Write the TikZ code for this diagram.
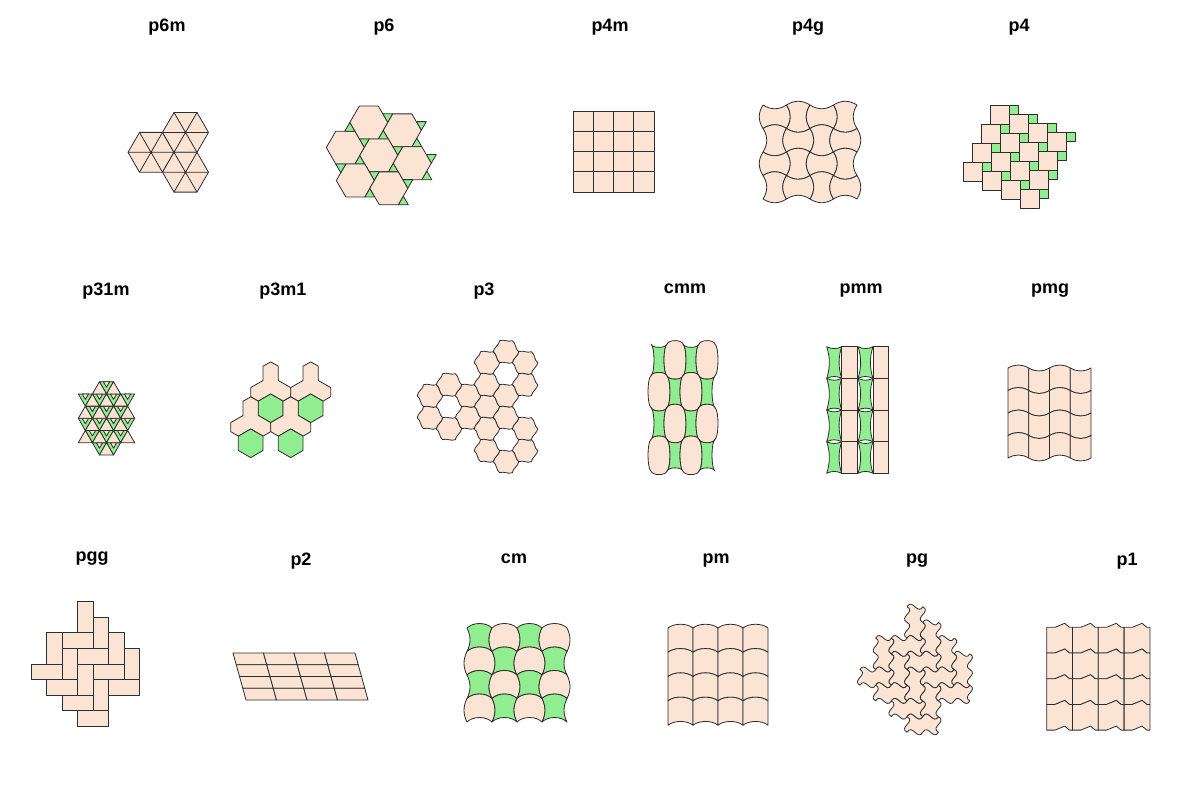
\documentclass[tikz,border=0pt]{standalone}
\usepackage{fontspec}
\setmainfont{Liberation Sans}
\usetikzlibrary{calc}
\definecolor{peach}{RGB}{252,228,212}
\definecolor{lgreen}{RGB}{144,238,144}
\definecolor{ink}{RGB}{45,45,45}
\newcommand\pthreetile{%
 (12.7,0) .. controls (12.142,4.567) and (6.908,6.433) .. (6.35,11)
 .. controls (2.117,12.8) and (-2.117,9.2) .. (-6.35,11)
 .. controls (-10.026,8.233) and (-9.024,2.767) .. (-12.7,0)
 .. controls (-12.142,-4.567) and (-6.908,-6.433) .. (-6.35,-11)
 .. controls (-2.117,-12.8) and (2.117,-9.2) .. (6.35,-11)
 .. controls (10.026,-8.233) and (9.024,-2.767) .. cycle}
% wavy unit segments for pg (u = 15.7)
\newcommand\hR[2]{.. controls ({#1+5.23},{#2-9}) and ({#1+10.47},{#2+9}) .. ({#1+15.7},{#2})}
\newcommand\hL[2]{.. controls ({#1-5.23},{#2+9}) and ({#1-10.47},{#2-9}) .. ({#1-15.7},{#2})}
\newcommand\vD[2]{.. controls ({#1+9},{#2+5.23}) and ({#1-9},{#2+10.47}) .. ({#1},{#2+15.7})}
\newcommand\vU[2]{.. controls ({#1-9},{#2-5.23}) and ({#1+9},{#2-10.47}) .. ({#1},{#2-15.7})}
\begin{document}
\begin{tikzpicture}[x=1pt,y=-1pt,
  tile/.style={fill=peach,draw=ink,line width=0.8pt,line join=round},
  gtile/.style={fill=lgreen,draw=ink,line width=0.8pt,line join=round},
  edge/.style={draw=ink,line width=0.8pt},
  ttl/.style={font=\bfseries\fontsize{18}{21}\selectfont,inner sep=0pt}]
\useasboundingbox (0,0) rectangle (1200,790);
% ---------- titles
\node[ttl] (t-p6m) at (167,27) {p6m};
\node[ttl] (t-p6) at (384,27) {p6};
\node[ttl] (t-p4m) at (610,27) {p4m};
\node[ttl] (t-p4g) at (808,27) {p4g};
\node[ttl] (t-p4) at (1019,27) {p4};
\node[ttl] (t-p31m) at (106,291) {p31m};
\node[ttl] (t-p3m1) at (283,291) {p3m1};
\node[ttl] (t-p3) at (484,291) {p3};
\node[ttl] (t-cmm) at (685,289) {cmm};
\node[ttl] (t-pmm) at (861,291) {pmm};
\node[ttl] (t-pmg) at (1050,291) {pmg};
\node[ttl] (t-pgg) at (92,559) {pgg};
\node[ttl] (t-p2) at (301,561) {p2};
\node[ttl] (t-cm) at (514,559) {cm};
\node[ttl] (t-pm) at (716,561) {pm};
\node[ttl] (t-pg) at (917,561) {pg};
\node[ttl] (t-p1) at (1127,561) {p1};
% ---------- p6m
\foreach \cx/\cy in {151/152.3,185.5/132.4,185.5/172.2}{
  \draw[tile] (\cx+23,\cy) -- (\cx+11.5,\cy-19.92) -- (\cx-11.5,\cy-19.92) -- (\cx-23,\cy) -- (\cx-11.5,\cy+19.92) -- (\cx+11.5,\cy+19.92) -- cycle;
  \draw[edge] (\cx-23,\cy) -- (\cx+23,\cy) (\cx-11.5,\cy-19.92) -- (\cx+11.5,\cy+19.92) (\cx+11.5,\cy-19.92) -- (\cx-11.5,\cy+19.92);
}
% ---------- p6
\foreach \hx/\hy in {368.8/122.5,402.3/130.3,345.3/147.6,378.8/155.4,412.3/163.2,355.3/180.5,388.8/188.3}{
  \begin{scope}[shift={(\hx,\hy)}]
  \draw[gtile] (9.5,16.45) -- (19.5,16.45) -- (14.5,7.79) -- cycle;
  \draw[gtile] (19,0) -- (14,-8.66) -- (24,-8.66) -- cycle;
  \draw[tile] (19,0) -- (9.5,-16.45) -- (-9.5,-16.45) -- (-19,0) -- (-9.5,16.45) -- (9.5,16.45) -- cycle;
  \end{scope}
}
\draw[gtile] (344.8,131.16) -- (354.8,131.16) -- (349.8,122.5) -- cycle;
\draw[gtile] (335.8,164.05) -- (345.8,164.05) -- (340.8,172.7) -- cycle;
% ---------- p4m
\draw[tile] (573,111) rectangle (654,192);
\foreach \k in {1,2,3}{\draw[edge] (573+20.25*\k,111) -- (573+20.25*\k,192) (573,111+20.25*\k) -- (654,111+20.25*\k);}
% ---------- p4g
\foreach \i in {0,...,3}{\foreach \k in {0,...,3}{
  \pgfmathsetmacro\sg{5*(1-2*mod(\i+\k,2))}
  \pgfmathsetmacro\X{763+23.5*\i}\pgfmathsetmacro\Y{105+23.5*\k}
  \draw[tile] (\X,\Y) .. controls ({\X+7.83},{\Y+\sg}) and ({\X+15.67},{\Y+\sg}) .. ({\X+23.5},\Y)
    .. controls ({\X+23.5+\sg},{\Y+7.83}) and ({\X+23.5+\sg},{\Y+15.67}) .. ({\X+23.5},{\Y+23.5})
    .. controls ({\X+15.67},{\Y+23.5-\sg}) and ({\X+7.83},{\Y+23.5-\sg}) .. (\X,{\Y+23.5})
    .. controls ({\X-\sg},{\Y+15.67}) and ({\X-\sg},{\Y+7.83}) .. cycle;
}}
% ---------- p4
\foreach \i in {0,...,3}{\foreach \j in {0,...,3}{
  \pgfmathsetmacro\X{990+19*\i-9*\j}\pgfmathsetmacro\Y{105+9*\i+19*\j}
  \draw[tile] (\X,\Y) rectangle ++(19,19);
  \draw[gtile] ({\X+19},\Y) rectangle ++(9,9);
}}
% ---------- p31m
\foreach \r/\q in {0/-0.5,1/-2,1/-1,1/0,1/1,2/-1.5,2/-0.5,2/0.5,3/-2,3/-1,3/0,3/1,4/-1.5,4/-0.5,4/0.5,5/-1,5/0}{
  \pgfmathsetmacro\xa{106.5+14.1*\q}\pgfmathsetmacro\xb{106.5+14.1*(\q+1)}\pgfmathsetmacro\xm{106.5+14.1*(\q+0.5)}
  \pgfmathsetmacro\ya{381.7+12.2*\r}\pgfmathsetmacro\yb{381.7+12.2*(\r+1)}
  \draw[gtile] (\xa,\ya) -- (\xb,\ya) -- (\xm,\yb) -- cycle;
  \draw[tile] ({\xm-3.2},\ya) -- ({\xm+3.2},\ya) -- (\xm,{\ya+5.5}) -- cycle;
}
\foreach \r/\p in {0/-0.5,0/0.5,1/-1,1/0,1/1,2/-1.5,2/-0.5,2/0.5,2/1.5,3/-1,3/0,3/1,4/-1.5,4/-0.5,4/0.5,4/1.5,5/0}{
  \pgfmathsetmacro\xa{106.5+14.1*(\p-0.5)}\pgfmathsetmacro\xb{106.5+14.1*(\p+0.5)}\pgfmathsetmacro\xm{106.5+14.1*\p}
  \pgfmathsetmacro\ya{381.7+12.2*\r}\pgfmathsetmacro\yb{381.7+12.2*(\r+1)}
  \draw[tile] (\xm,\ya) -- (\xb,\yb) -- (\xa,\yb) -- cycle;
}
% ---------- p3m1
\foreach \bx/\by in {270.7/408.3,310.7/408.3,250.7/443.3,290.7/443.3}{
  \begin{scope}[shift={(\bx,\by)}]
  \draw[tile] (0,-46.4) -- (7.62,-42.15) -- (7.62,-27.85) -- (20,-20.7) -- (20,-11.67) -- (12.38,-7.15) -- (0,-14.3) -- (-12.38,-7.15) -- (-20,-11.67) -- (-20,-20.7) -- (-7.62,-27.85) -- (-7.62,-42.15) -- cycle;
  \draw[gtile] (0,-14.3) -- (12.38,-7.15) -- (12.38,7.15) -- (0,14.3) -- (-12.38,7.15) -- (-12.38,-7.15) -- cycle;
  \end{scope}
}
% ---------- p3
\draw[tile,shift={(487,406.7)}] \pthreetile;
\foreach \hx/\hy in {449/406.7,506/373.7,506/439.7}{
  \foreach \dx/\dy in {19.05/11,19.05/-11,0/22,0/-22,-19.05/11,-19.05/-11}{
    \draw[tile,shift={(\hx+\dx,\hy+\dy)}] \pthreetile;
  }
}
% ---------- cmm
\foreach \i in {0,...,3}{\foreach \j in {0,...,3}{
  \pgfmathsetmacro\X{651+16*\i}\pgfmathsetmacro\Y{344+31.8*\j}
  \pgfmathsetmacro\s{2*mod(\i+\j,2)-1}
  \pgfmathsetmacro\ha{4*\s}\pgfmathsetmacro\vb{4.5*\s}
  \ifdim\s pt>0pt \def\fc{peach}\else\def\fc{lgreen}\fi
  \draw[tile,fill=\fc] (\X,\Y) .. controls ({\X+1.6},{\Y-\vb}) and ({\X+14.4},{\Y-\vb}) .. ({\X+16},\Y)
     .. controls ({\X+16+\ha},{\Y+3.2}) and ({\X+16+\ha},{\Y+28.6}) .. ({\X+16},{\Y+31.8})
     .. controls ({\X+14.4},{\Y+31.8+\vb}) and ({\X+1.6},{\Y+31.8+\vb}) .. (\X,{\Y+31.8})
     .. controls ({\X-\ha},{\Y+28.6}) and ({\X-\ha},{\Y+3.2}) .. cycle;
}}
% ---------- pmm
\foreach \i in {0,1}{\foreach \j in {0,...,3}{
  \pgfmathsetmacro\X{826.7+31.3*\i}\pgfmathsetmacro\Y{346.7+31.65*\j}
  \draw[gtile] (\X,\Y) .. controls ({\X+5},{\Y+2.5}) and ({\X+10},{\Y+2.5}) .. ({\X+15},\Y)
     .. controls ({\X+11.5},{\Y+10.5}) and ({\X+11.5},{\Y+21.1}) .. ({\X+15},{\Y+31.65})
     .. controls ({\X+10},{\Y+29.15}) and ({\X+5},{\Y+29.15}) .. (\X,{\Y+31.65})
     .. controls ({\X+3.5},{\Y+21.1}) and ({\X+3.5},{\Y+10.5}) .. cycle;
  \draw[tile] ({\X+15},\Y) rectangle ++(15.6,31.65);
}}
% ---------- pmg
\foreach \i in {0,...,3}{\foreach \j in {0,...,3}{
  \pgfmathsetmacro\X{1008+20.75*\i}\pgfmathsetmacro\Y{368+22.5*\j}
  \pgfmathsetmacro\s{4*(1-2*mod(\i,2))}
  \draw[tile] (\X,\Y) .. controls ({\X+6.9},{\Y-\s}) and ({\X+13.8},{\Y-\s}) .. ({\X+20.75},\Y)
     -- ({\X+20.75},{\Y+22.5})
     .. controls ({\X+13.8},{\Y+22.5-\s}) and ({\X+6.9},{\Y+22.5-\s}) .. (\X,{\Y+22.5}) -- cycle;
}}
% ---------- pgg
\foreach \a/\b in {3/0,4/1,5/2,6/3,1/2,2/3,3/4,4/5}{\draw[tile] ({31+15.55*\a},{601.7+15.55*\b}) rectangle ++(15.55,31.1);}
\foreach \a/\b in {2/2,3/3,4/4,5/5,0/4,1/5,2/6,3/7}{\draw[tile] ({31+15.55*\a},{601.7+15.55*\b}) rectangle ++(31.1,15.55);}
% ---------- p2
\foreach \i in {0,...,3}{\foreach \j in {0,...,3}{
  \pgfmathsetmacro\X{233+30.5*\i+3.25*\j}\pgfmathsetmacro\Y{653+11.75*\j}
  \draw[tile] (\X,\Y) -- ++(30.5,0) -- ++(3.25,11.75) -- ++(-30.5,0) -- cycle;
}}
% ---------- cm
\foreach \i in {0,...,3}{\foreach \j in {0,...,3}{
  \pgfmathsetmacro\X{467+25*\i}\pgfmathsetmacro\Y{628+23.5*\j}
  \pgfmathsetmacro\s{2*mod(\i+\j,2)-1}
  \pgfmathsetmacro\ha{4*\s}
  \ifdim\s pt>0pt \def\fc{peach}\else\def\fc{lgreen}\fi
  \draw[tile,fill=\fc] (\X,\Y) .. controls ({\X+6},{\Y-6}) and ({\X+19},{\Y-6}) .. ({\X+25},\Y)
     .. controls ({\X+25+\ha},{\Y+7.8}) and ({\X+25+\ha},{\Y+15.7}) .. ({\X+25},{\Y+23.5})
     .. controls ({\X+19},{\Y+17.5}) and ({\X+6},{\Y+17.5}) .. (\X,{\Y+23.5})
     .. controls ({\X-\ha},{\Y+15.7}) and ({\X-\ha},{\Y+7.8}) .. cycle;
}}
% ---------- pm
\foreach \i in {0,...,3}{\foreach \j in {0,...,3}{
  \pgfmathsetmacro\X{668+25*\i}\pgfmathsetmacro\Y{628+24.3*\j}
  \draw[tile] (\X,\Y) .. controls ({\X+6},{\Y-5}) and ({\X+19},{\Y-5}) .. ({\X+25},\Y)
     -- ({\X+25},{\Y+24.3})
     .. controls ({\X+19},{\Y+19.3}) and ({\X+6},{\Y+19.3}) .. (\X,{\Y+24.3}) -- cycle;
}}
% ---------- pg
\foreach \a/\b in {3/0,4/1,5/2,6/3,1/2,2/3,3/4,4/5}{
  \pgfmathsetmacro\X{860+15.7*\a}\pgfmathsetmacro\Y{606.7+15.7*\b}
  \pgfmathsetmacro\Xa{\X+15.7}\pgfmathsetmacro\Ya{\Y+15.7}\pgfmathsetmacro\Yb{\Y+31.4}
  \draw[tile] (\X,\Y) \hR{\X}{\Y} \vD{\Xa}{\Y} \vD{\Xa}{\Ya} \hL{\Xa}{\Yb} \vU{\X}{\Yb} \vU{\X}{\Ya} -- cycle;
}
\foreach \a/\b in {2/2,3/3,4/4,5/5,0/4,1/5,2/6,3/7}{
  \pgfmathsetmacro\X{860+15.7*\a}\pgfmathsetmacro\Y{606.7+15.7*\b}
  \pgfmathsetmacro\Xa{\X+15.7}\pgfmathsetmacro\Xb{\X+31.4}\pgfmathsetmacro\Ya{\Y+15.7}
  \draw[tile] (\X,\Y) \hR{\X}{\Y} \hR{\Xa}{\Y} \vD{\Xb}{\Y} \hL{\Xb}{\Ya} \hL{\Xa}{\Ya} \vU{\X}{\Ya} -- cycle;
}
% ---------- p1
\foreach \i in {0,...,3}{\foreach \j in {0,...,3}{
  \pgfmathsetmacro\X{1046.7+25.8*\i}\pgfmathsetmacro\Y{627.3+25.7*\j}
  \draw[tile] (\X,\Y) -- ({\X+8.3},\Y) -- ({\X+18},{\Y-4}) -- ({\X+22.7},\Y) -- ({\X+25.8},\Y)
     -- ({\X+25.8},{\Y+25.7}) -- ({\X+22.7},{\Y+25.7}) -- ({\X+18},{\Y+21.7}) -- ({\X+8.3},{\Y+25.7}) -- (\X,{\Y+25.7}) -- cycle;
}}
\end{tikzpicture}
\end{document}
